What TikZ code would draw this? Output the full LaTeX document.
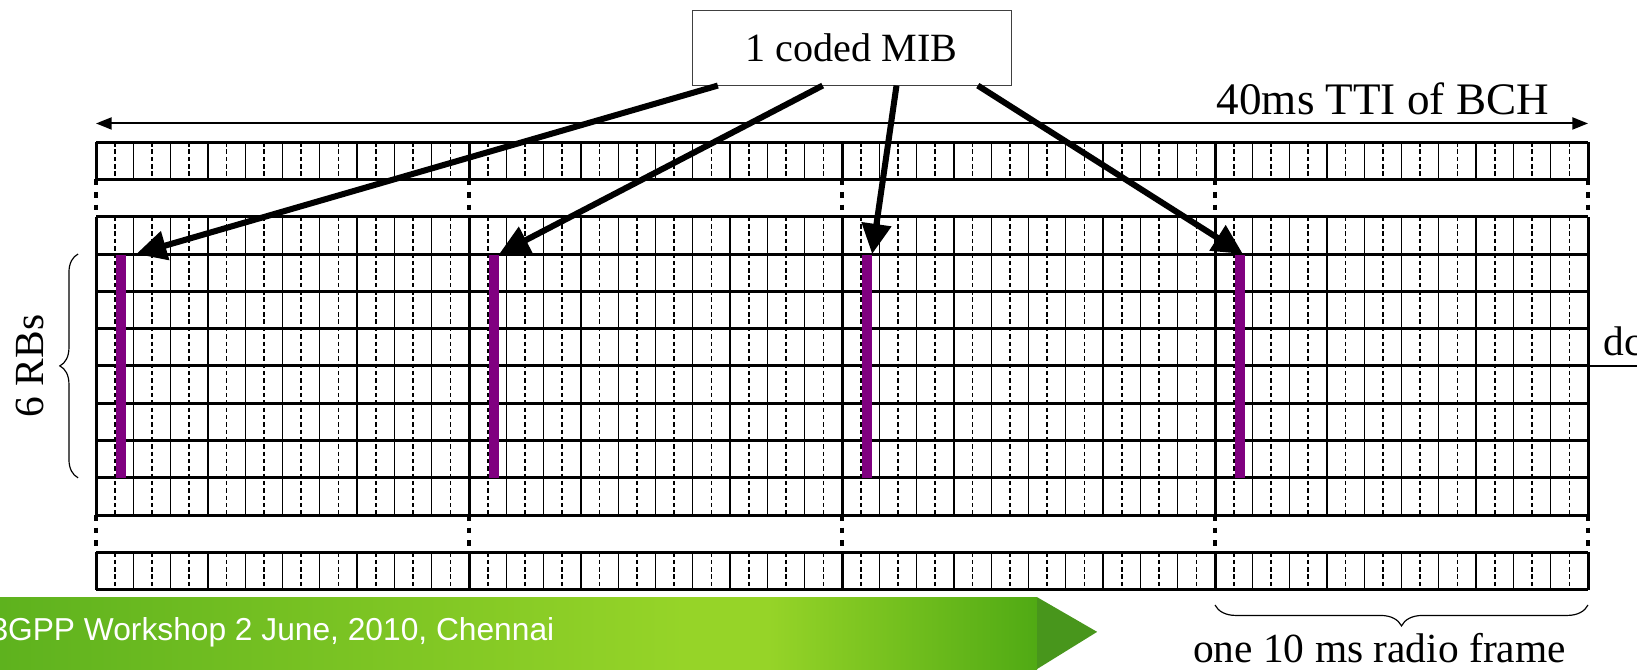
\documentclass[tikz,border=0pt]{standalone}
\usepackage{fontspec}
\setmainfont{Liberation Serif}
\newfontfamily\footerfont{Liberation Sans}
\usetikzlibrary{arrows.meta, decorations.pathreplacing}
\definecolor{pbchcolor}{RGB}{128,0,128}
\definecolor{bannerleft}{RGB}{94,178,30}
\definecolor{bannermid}{RGB}{150,212,40}
\definecolor{bannerright}{RGB}{80,170,20}
\definecolor{bannertip}{RGB}{72,150,28}
\pgfdeclarehorizontalshading{bannershade}{100bp}{%
  color(0bp)=(bannerleft); color(25bp)=(bannerleft);
  color(58bp)=(bannermid); color(62bp)=(bannermid);
  color(75bp)=(bannerright); color(100bp)=(bannerright)}

\begin{document}
\begin{tikzpicture}[
    x=0.5cm, y=0.5cm,
    every node/.style={font=\fontsize{15.8}{18}\selectfont},
    thickline/.style={line width=1.15pt},
    sfline/.style={line width=0.5pt},
    slotline/.style={line width=0.65pt, dash pattern=on 1.7pt off 1.1pt},
    gapdots/.style={line width=1.8pt, dash pattern=on 2.2pt off 2.6pt},
    mibbox/.style={draw=black!75, line width=0.4pt, minimum width=4.275cm,
                   minimum height=1cm, inner sep=0pt, font=\fontsize{15.3}{18}\selectfont},
    pbchbar/.style={fill=pbchcolor, inner sep=0pt, minimum width=0.125cm,
                    minimum height=3cm, anchor=north west},
    mibarr/.style={-{Triangle[length=11.5pt,width=11pt]}, line width=2.3pt},
    ttiarr/.style={{Triangle[length=6pt,width=4.6pt]}-{Triangle[length=6pt,width=4.6pt]}, line width=0.75pt},
    rbbrace/.style={decorate, decoration={brace, amplitude=0.245cm}, line width=0.45pt},
    framebrace/.style={decorate, decoration={brace, amplitude=0.28cm}, line width=0.45pt},
]

\useasboundingbox (-2.574,-12.126) rectangle (41.314,5.810);

%% ── Footer banner ────────────────────────────────────────────────────────────
\shade[shading=bannershade] (-2.574,-10.2) rectangle (25.23,-12.126);
\fill[bannertip] (25.23,-10.2) -- (26.84,-11.13) -- (25.23,-12.126) -- cycle;
\node[font=\footerfont\fontsize{12.1}{14}\selectfont, text=white, anchor=base east,
      inner sep=0pt]
  (footer) at (12.3,-11.37) {3GPP Workshop 2 June, 2010, Chennai};

%% ── Resource grid: top strip, 8 rows, bottom strip ───────────────────────────
\coordinate (gridnw) at (0,2);
\coordinate (gridne) at (40,2);

\foreach \y in {2,1} \draw[thickline] (0,\y) -- (40,\y);
\foreach \y in {0,-1,...,-8} \draw[thickline] (0,\y) -- (40,\y);
\foreach \y in {-9,-10} \draw[thickline] (0,\y) -- (40,\y);

\foreach \ya/\yb in {1/2, -8/0, -10/-9} {
  \foreach \i in {1,...,39} \draw[sfline] (\i,\ya) -- (\i,\yb);
  \foreach \i in {0,...,39} \draw[slotline] (\i+0.5,\yb) -- (\i+0.5,\ya);
  \foreach \i in {0,10,...,40} \draw[thickline] (\i,\ya) -- (\i,\yb);
}

% frame borders continue dotted across the gaps
\foreach \i in {0,10,...,40} {
  \draw[gapdots] (\i,1) -- (\i,0);
  \draw[gapdots] (\i,-8) -- (\i,-9);
}

%% ── PBCH symbols in the 6 central RBs ────────────────────────────────────────
\foreach \k in {0,...,3}
  \node[pbchbar] (bar\k) at (10*\k+0.53,-1) {};

%% ── Coded MIB and its four copies ────────────────────────────────────────────
\node[mibbox] (mib) at (20.26,4.53) {1 coded MIB};

\draw[mibarr] ([xshift=0.35cm]mib.south west)  -- ([xshift=0.135cm]bar0.north east);
\draw[mibarr] ([xshift=1.755cm]mib.south west) -- (bar1.north east);
\draw[mibarr] ([xshift=2.745cm]mib.south west) -- (bar2.north east);
\draw[mibarr] ([xshift=3.835cm]mib.south west) -- ([xshift=-0.03cm]bar3.north east);

%% ── TTI span ─────────────────────────────────────────────────────────────────
\draw[ttiarr] ([yshift=0.25cm]gridnw) -- ([yshift=0.25cm]gridne);
\node[anchor=base, font=\fontsize{17.2}{20}\selectfont] (tti) at (34.5,2.73) {40ms TTI of BCH};

%% ── Side labels ──────────────────────────────────────────────────────────────
\draw[rbbrace] (-0.48,-7) -- (-0.48,-1);
\node[rotate=90, anchor=base] (rbs) at (-1.42,-4) {6 RBs};

\draw[sfline] (40,-4) -- ++(1.5,0);
\node[anchor=base west, inner sep=0pt] (dc) at (40.4,-3.71) {dc};

\draw[framebrace] (40,-10.41) -- (30,-10.41);
\node[anchor=base] (frame) at (34.41,-11.96) {one 10 ms radio frame};

\end{tikzpicture}
\end{document}
